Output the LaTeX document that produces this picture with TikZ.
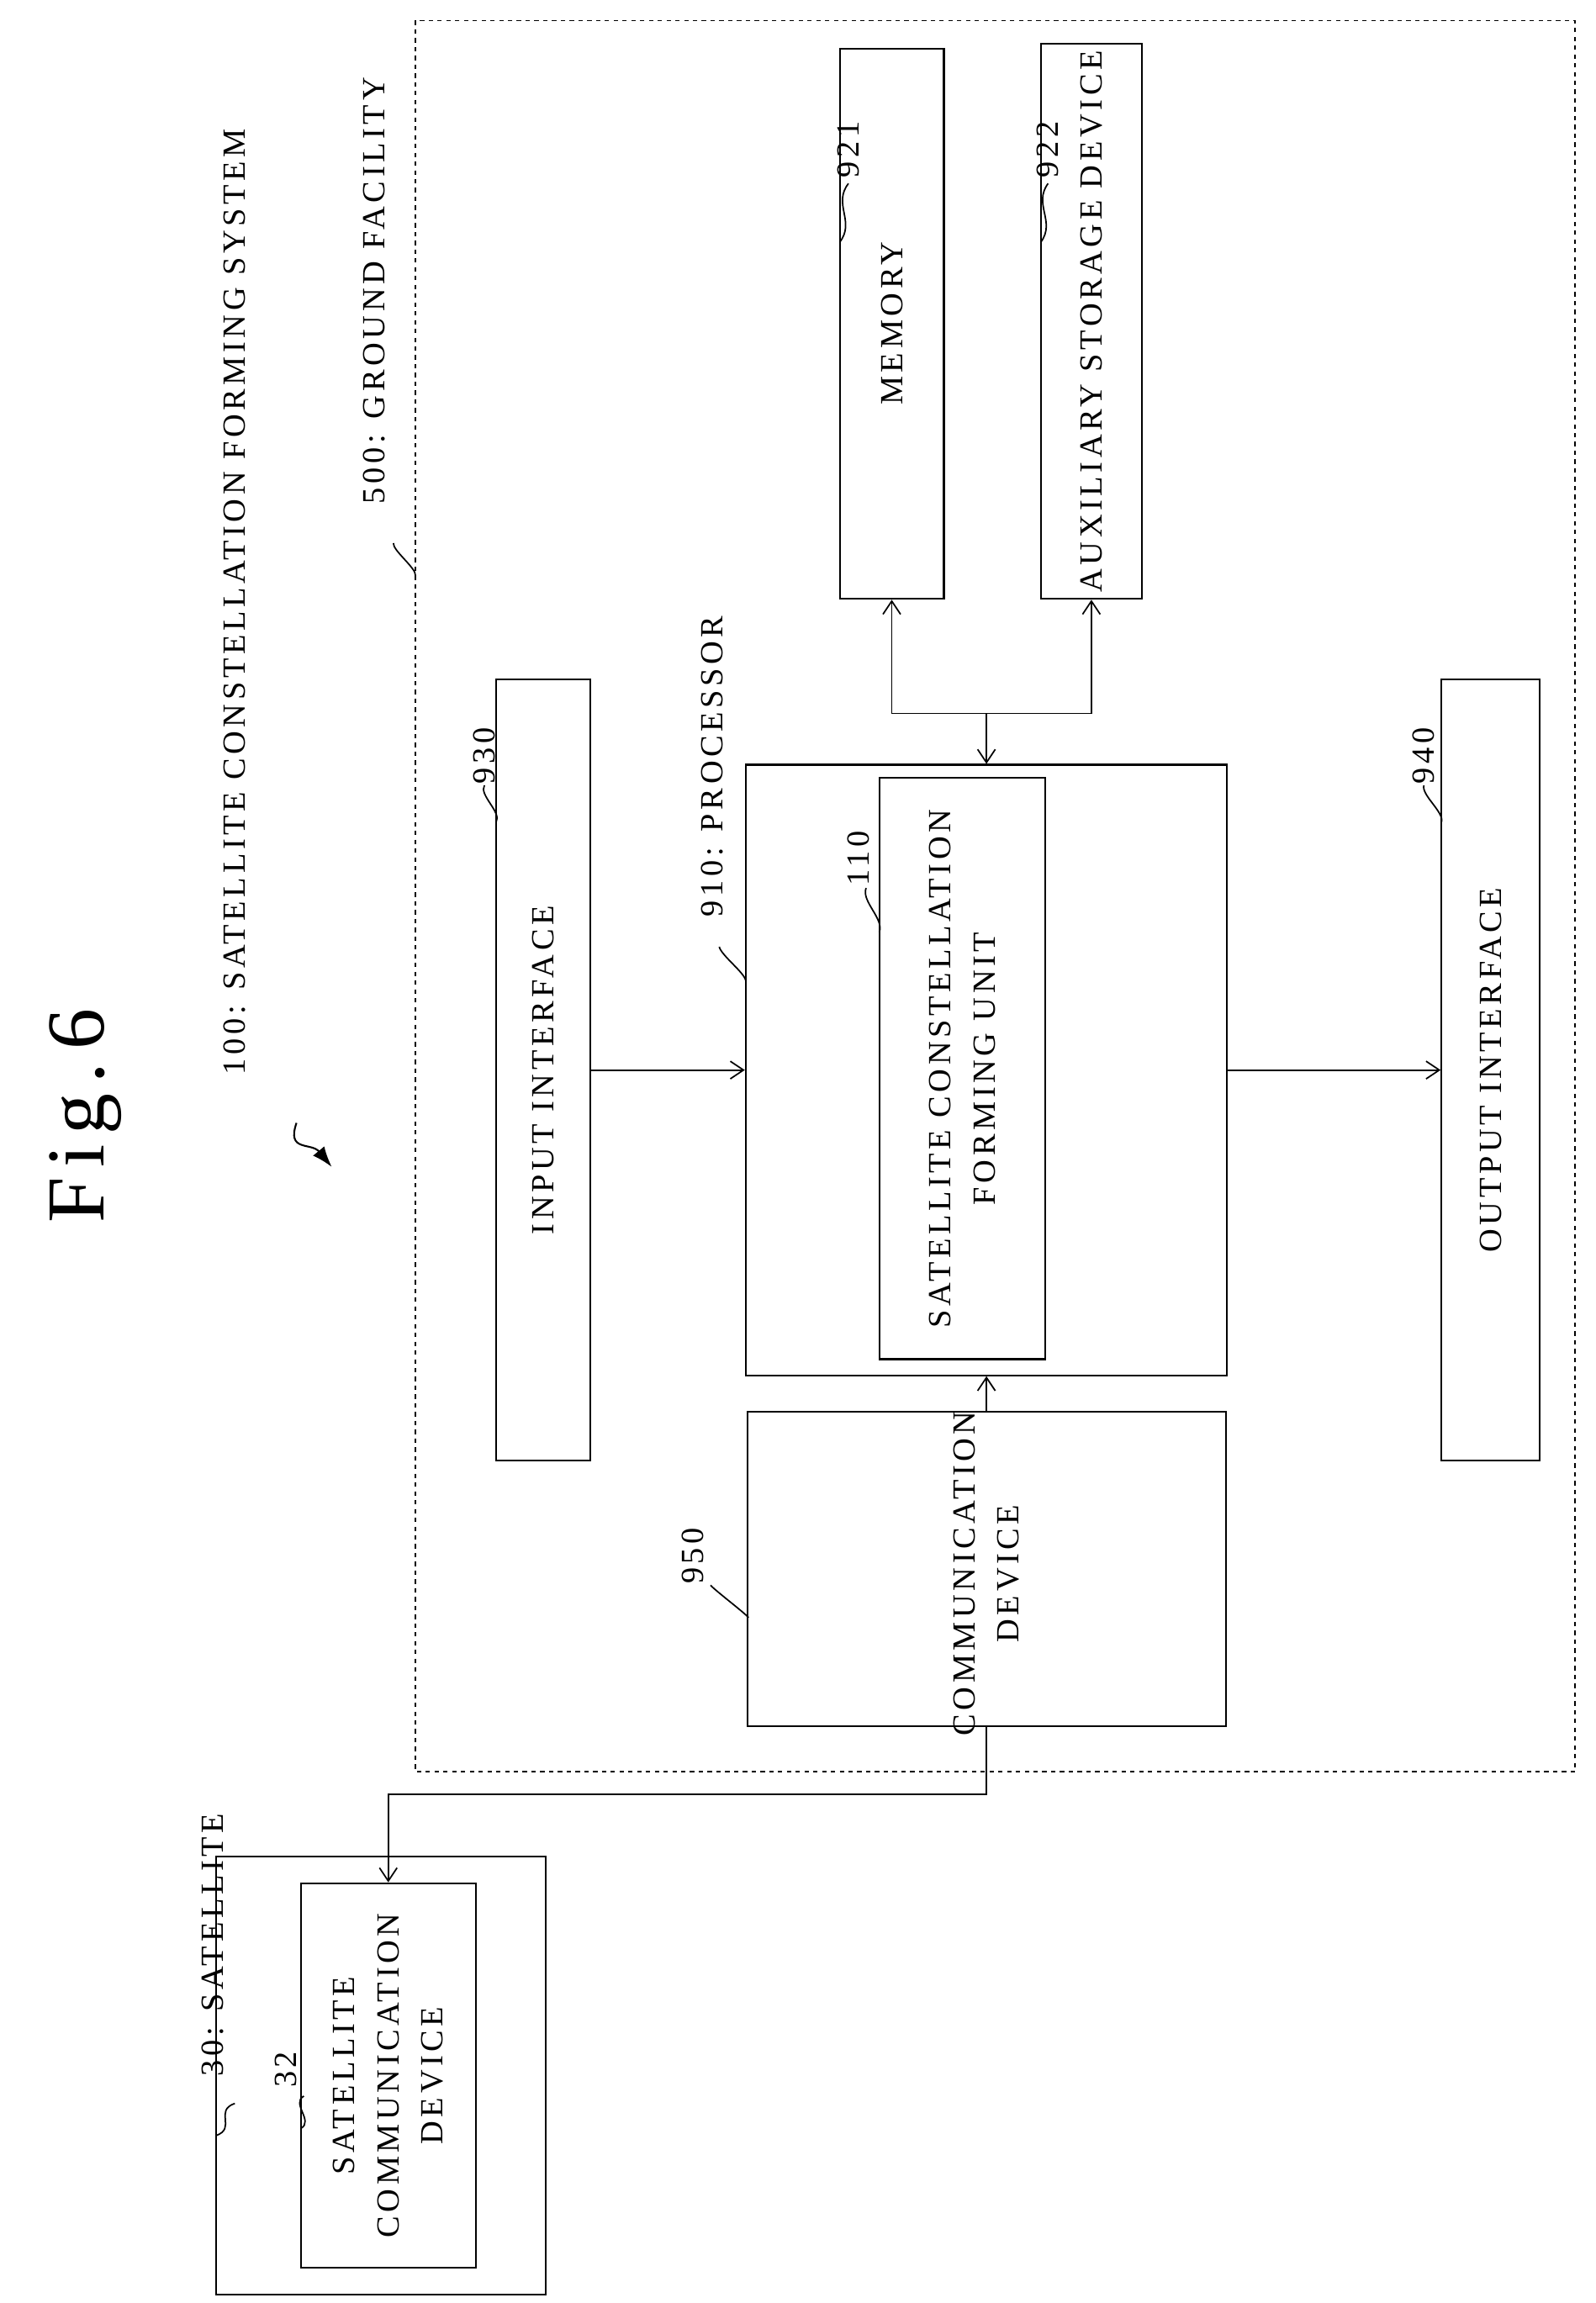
\documentclass[tikz,border=0pt]{standalone}
\usepackage{fontspec}
\setmainfont{Liberation Serif}[LetterSpace=12]
\usetikzlibrary{arrows.meta,calc}
\begin{document}
\begin{tikzpicture}[x=1pt,y=-1pt,
  box/.style={draw,line width=1.2pt,inner sep=0pt},
  txt/.style={rotate=90,font=\fontsize{22}{30}\selectfont,align=center,inner sep=0pt},
  lbl/.style={rotate=90,font=\fontsize{22}{26}\selectfont,inner sep=0pt,anchor=center},
  conn/.style={line width=1pt,-{Straight Barb[length=9pt,width=12pt]}},
  lead/.style={line width=1pt}]
\useasboundingbox (0,0) rectangle (1087,1569);
\node[rotate=90,font=\fontsize{56}{60}\selectfont] (fig) at (58,760) {Fig.\,6};
\draw[dashed,line width=1pt] (283,14) rectangle (1073,1207);
\node[box,minimum width=71,minimum height=375] (mem) at (607.5,220.5) {};
\node[box,minimum width=69,minimum height=378] (aux) at (743.5,219) {};
\node[box,minimum width=64,minimum height=532] (inp) at (370,729) {};
\node[box,minimum width=328,minimum height=416] (proc) at (672,729) {};
\node[box,minimum width=113,minimum height=396] (unit) at (655.5,728) {};
\node[box,minimum width=67,minimum height=532] (outp) at (1015.5,729) {};
\node[box,minimum width=326,minimum height=214] (comm) at (672,1069) {};
\node[box,minimum width=225,minimum height=298] (sat) at (259.5,1414) {};
\node[box,minimum width=119,minimum height=262] (scd) at (264.5,1414) {};
\node[txt] (tmem) at (mem) {MEMORY};
\node[txt] (taux) at (aux) {AUXILIARY STORAGE DEVICE};
\node[txt] (tinp) at (inp) {INPUT INTERFACE};
\node[txt] (tunit) at (unit) {SATELLITE CONSTELLATION\\FORMING UNIT};
\node[txt] (toutp) at (outp) {OUTPUT INTERFACE};
\node[txt] (tcomm) at (672,1072) {COMMUNICATION\\DEVICE};
\node[txt] (tscd) at (scd) {SATELLITE\\COMMUNICATION\\DEVICE};
% labels
\node[lbl] (l100) at (160,410) {100: SATELLITE CONSTELLATION FORMING SYSTEM};
\node[lbl] (l500) at (255,198) {500: GROUND FACILITY};
\node[lbl] (l910) at (485,522) {910: PROCESSOR};
\node[lbl] (l930) at (330,515) {930};
\node[lbl] (l921) at (578,102) {921};
\node[lbl] (l922) at (714,102) {922};
\node[lbl] (l110) at (585,585) {110};
\node[lbl] (l940) at (970,515) {940};
\node[lbl] (l950) at (472,1060) {950};
\node[lbl] (l30) at (145,1325) {30: SATELLITE};
\node[lbl] (l32) at (195,1410) {32};
% leaders
\coordinate (a1) at (268,370); \coordinate (b1) at (283,392);
\coordinate (a2) at (490,645); \coordinate (b2) at (508,668);
\coordinate (a3) at (330,535); \coordinate (b3) at (338,560);
\coordinate (a4) at (578,125); \coordinate (b4) at (572,165);
\coordinate (a5) at (714,125); \coordinate (b5) at (709,165);
\coordinate (a6) at (590,605); \coordinate (b6) at (599,635);
\coordinate (a7) at (970,535); \coordinate (b7) at (982,560);
\coordinate (a8) at (484,1080); \coordinate (b8) at (510,1102);
\coordinate (a9) at (160,1433); \coordinate (b9) at (147,1455);
\coordinate (a10) at (207,1428); \coordinate (b10) at (205,1450);
\foreach \i in {1,...,10}{
  \draw[lead] (a\i) .. controls ($(a\i)!0.5!(b\i)+(-8,-6)$) and ($(a\i)!0.5!(b\i)+(8,6)$) .. (b\i);
}
\coordinate (c1) at (202,765); \coordinate (c2) at (226,795);
\draw[line width=1.2pt,-{Latex[length=14pt,width=10pt]}] (c1) .. controls (195,785) and (212,778) .. (c2);
% connectors
\coordinate (j) at (672,486);
\draw[line width=1pt,{Straight Barb[length=9pt,width=12pt]}-{Straight Barb[length=9pt,width=12pt]}] (mem.south) |- (j) -| (aux.south);
\draw[conn] (j) -- (proc.north);
\draw[conn] (inp.east) -- (proc.west);
\draw[conn] (proc.east) -- (outp.west);
\draw[conn] (comm.north) -- (proc.south);
\draw[conn] (comm.south) -- ++(0,46) -| (scd.north);
\end{tikzpicture}
\end{document}
